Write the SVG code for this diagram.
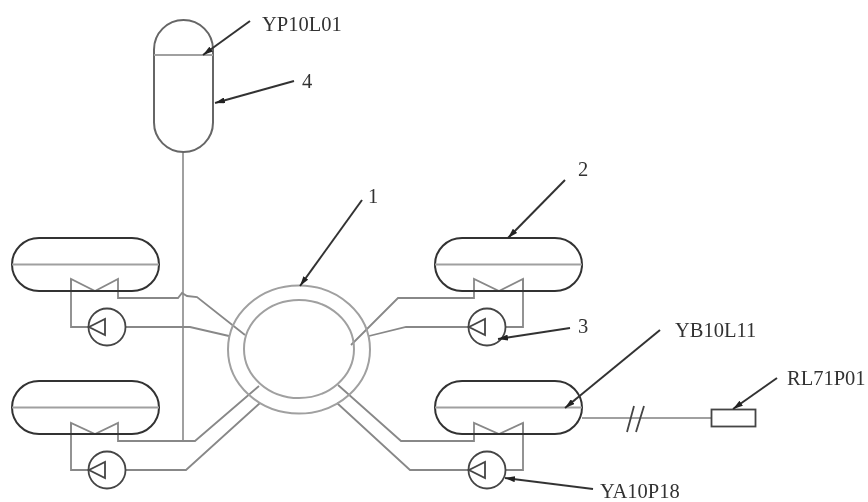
<svg xmlns="http://www.w3.org/2000/svg" width="868" height="502" viewBox="0 0 868 502">
<style>
.t{fill:none;stroke:#333;stroke-width:2}
.g{fill:none;stroke:#a0a0a0;stroke-width:2}
.v{fill:none;stroke:#888;stroke-width:1.800}
.d{fill:none;stroke:#444;stroke-width:1.800}
.l{fill:none;stroke:#333;stroke-width:2}
.a{fill:#222}
text{font-family:"Liberation Serif","Times New Roman",serif;font-size:20.500px;fill:#333}
.soft{filter:url(#soft)}
</style>
<defs>
<filter id="soft" x="0" y="0" width="868" height="502" filterUnits="userSpaceOnUse"><feGaussianBlur stdDeviation="0.450"/></filter>
<g id="tank"><rect class="t" x="0" y="0" width="147" height="53" rx="27" ry="26.500"/><path class="g" d="M0 26.500H147"/></g>
<g id="pump"><circle class="d" r="18.500"/><path class="d" d="M-18 0L-2-8V8Z"/></g>
<marker id="arrow" viewBox="0 0 10 6" refX="10" refY="3" markerWidth="10" markerHeight="6" orient="auto" markerUnits="userSpaceOnUse"><path class="a" d="M0 0L10 3L0 6Z"/></marker>
</defs>
<g class="soft">
<g id="connectors">
<path class="g" d="M183 152V441"/>
<path class="v" d="M71 291V279L95 291L118 279V298H178L182 293L187 296L197 297L245 335"/>
<path class="v" d="M71 279V327H88M126 327H190L229 336"/>
<path class="v" d="M71 434V423L95 434L118 423V441H195L259 386"/>
<path class="v" d="M71 423V470H88M126 470H186L260 403"/>
<path class="v" d="M523 291V279L499 291L474 279V298H398L351 345"/>
<path class="v" d="M523 279V327H505M468 327H406L369 336"/>
<path class="v" d="M523 434V423L499 434L474 423V441H401L338 385"/>
<path class="v" d="M523 423V470H505M468 470H410L337 403"/>
<path class="g" d="M582 418H711"/>
<path class="d" d="M627 432L634 406M636 432L644 406"/>
</g>
<g id="reactor"><ellipse class="g" cx="299" cy="349.500" rx="71" ry="64"/><ellipse class="g" cx="299" cy="349" rx="55" ry="49"/></g>
<g id="pressurizer"><rect class="t" x="154" y="20" width="59" height="132" rx="29.500" ry="29.500" style="stroke:#666"/><path class="g" d="M154 55H213"/></g>
<g id="tank-a"><use href="#tank" x="12" y="238"/></g>
<g id="tank-b"><use href="#tank" x="12" y="381"/></g>
<g id="tank-c"><use href="#tank" x="435" y="238"/></g>
<g id="tank-d"><use href="#tank" x="435" y="381"/></g>
<g id="pump-a"><use href="#pump" x="107" y="327"/></g>
<g id="pump-b"><use href="#pump" x="107" y="470"/></g>
<g id="pump-c"><use href="#pump" x="487" y="327"/></g>
<g id="pump-d"><use href="#pump" x="487" y="470"/></g>
<g id="sensor"><rect class="d" x="711.500" y="409.500" width="44" height="17"/></g>
<g id="leaders">
<path class="l" marker-end="url(#arrow)" d="M250 21L203 55"/>
<path class="l" marker-end="url(#arrow)" d="M294 81L215 103"/>
<path class="l" marker-end="url(#arrow)" d="M362 200L300 286"/>
<path class="l" marker-end="url(#arrow)" d="M565 180L508 238"/>
<path class="l" marker-end="url(#arrow)" d="M570 328L498 339"/>
<path class="l" marker-end="url(#arrow)" d="M660 330L565 408"/>
<path class="l" marker-end="url(#arrow)" d="M777 378L733 409"/>
<path class="l" marker-end="url(#arrow)" d="M593 489L505 478"/>
</g>
<g id="labels">
<text x="262" y="31">YP10L01</text>
<text x="302" y="88">4</text>
<text x="368" y="203">1</text>
<text x="578" y="176">2</text>
<text x="578" y="333">3</text>
<text x="675" y="337">YB10L11</text>
<text x="787" y="385">RL71P01</text>
<text x="600" y="498">YA10P18</text>
</g>
</g>
</svg>
